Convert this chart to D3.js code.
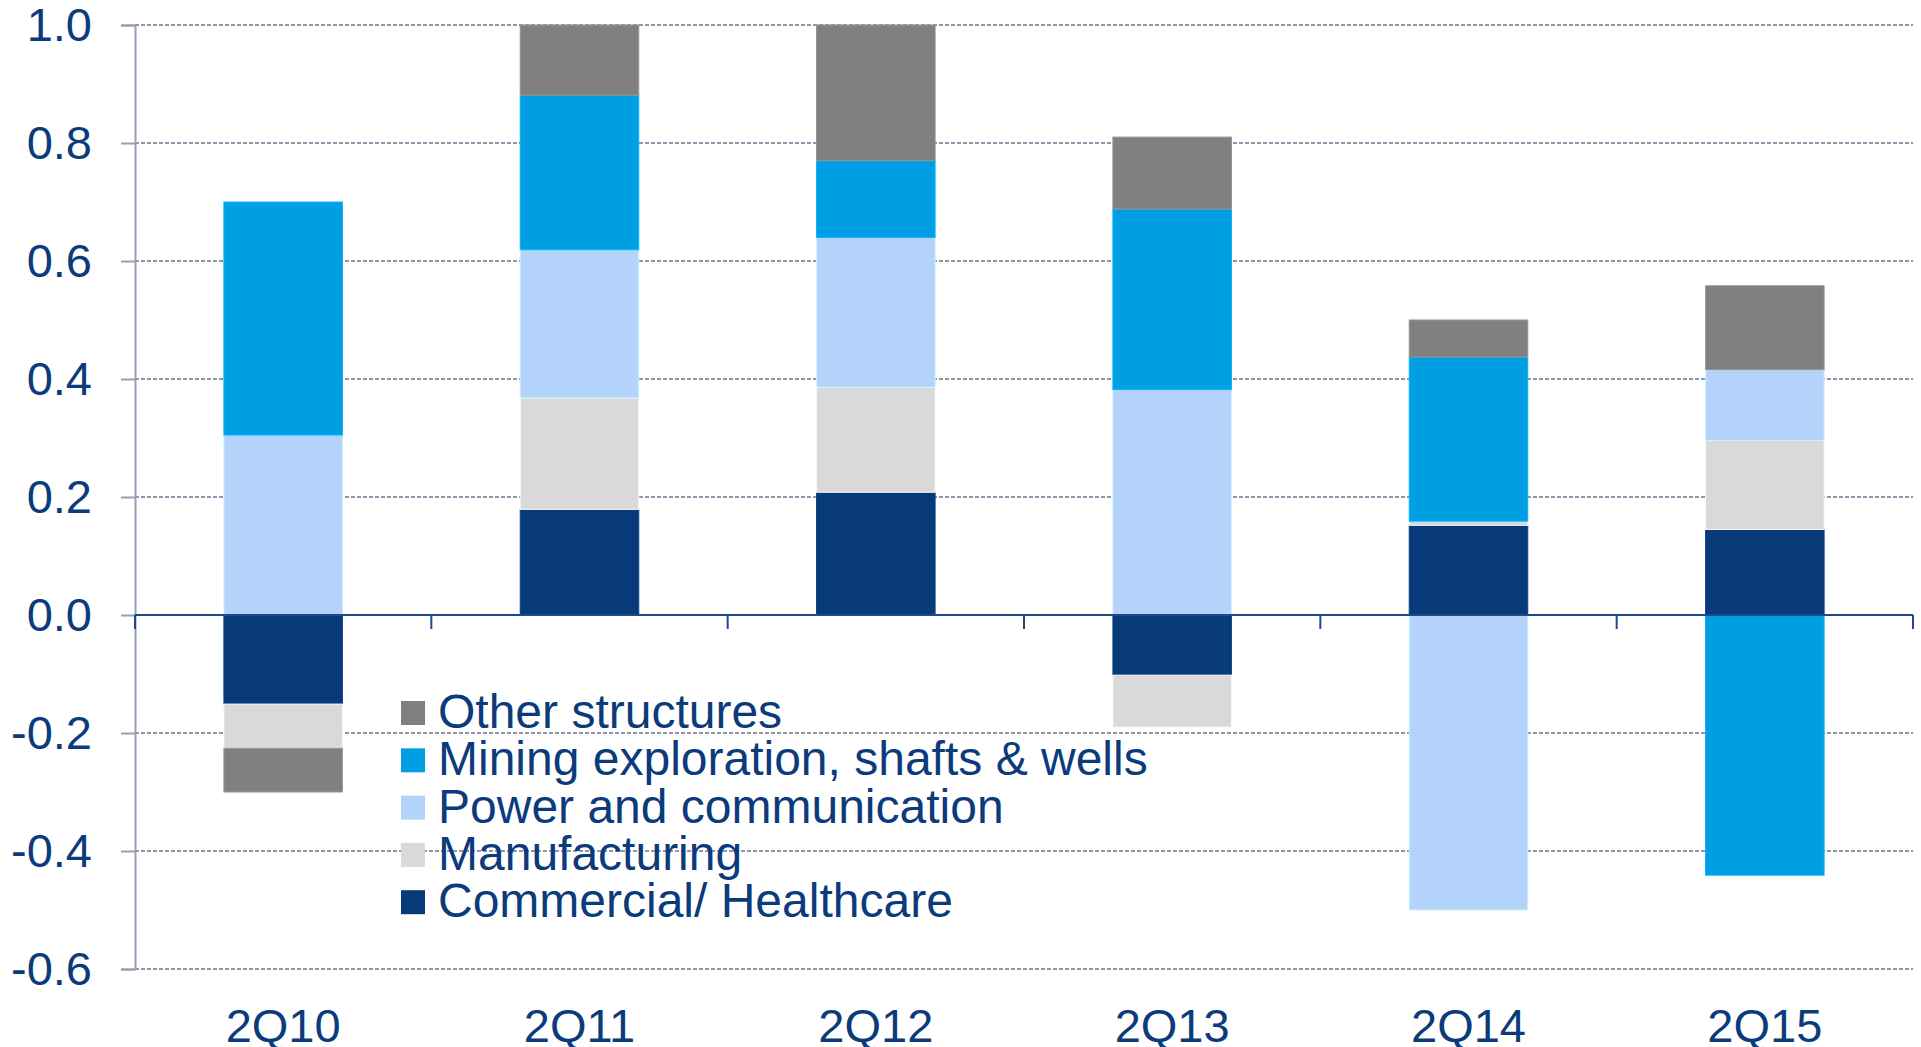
<!DOCTYPE html>
<html>
<head>
<meta charset="utf-8">
<script src="https://cdn.jsdelivr.net/npm/d3@7"></script>
<style>
  body { margin: 0; background: #fff; }
  text { font-family: "Liberation Sans", Arial, sans-serif; fill: #0b3b7b; }
</style>
</head>
<body>
<div id="viz"></div>
<script>

var quarters = ["2Q10", "2Q11", "2Q12", "2Q13", "2Q14", "2Q15"];

// series, bottom to top of the stack
var commercial    = [-0.151, 0.179, 0.208, -0.102, 0.152, 0.145];
var manufacturing = [-0.075, 0.189, 0.178, -0.088, 0.007, 0.151];
var power         = [ 0.305, 0.251, 0.254,  0.382, -0.500, 0.120];
var mining        = [ 0.395, 0.262, 0.130,  0.306, 0.278, -0.441];
var other         = [-0.074, 0.119, 0.230,  0.122, 0.063, 0.142];

var seriesNames = ["Commercial/ Healthcare", "Manufacturing", "Power and communication",
                   "Mining exploration, shafts & wells", "Other structures"];
var seriesValues = [commercial, manufacturing, power, mining, other];

var yTicks = [-0.6, -0.4, -0.2, 0.0, 0.2, 0.4, 0.6, 0.8, 1.0];

var width = 1921,
    height = 1047;

var svg = d3.select("#viz")
    .append("svg")
    .attr("width", width)
    .attr("height", height);

var color = d3.scaleOrdinal()
    .domain(seriesNames)
    .range(["#083a7a", "#d9d9d9", "#b3d3fa", "#009fe3", "#808080"]);

// build rows for d3.stack
var rows = quarters.map(function(q, i) {
  var r = { quarter: q };
  seriesNames.forEach(function(s, j) { r[s] = seriesValues[j][i]; });
  return r;
});

var stacked = d3.stack()
    .keys(seriesNames)
    .offset(d3.stackOffsetDiverging)(rows);

var x = d3.scaleBand()
    .domain(quarters)
    .range([135, 1913])
    .paddingInner(0.6)
    .paddingOuter(0.3);

var y = d3.scaleLinear()
    .domain([-0.6, 1.0])
    .range([969, 25]);

// ****************** Grid + left axis ***************************
svg.append("g")
    .selectAll("line")
    .data(yTicks.filter(function(d) { return d !== 0; }))
    .enter().append("line")
      .attr("x1", 135)
      .attr("x2", 1913)
      .attr("y1", function(d) { return y(d); })
      .attr("y2", function(d) { return y(d); })
      .attr("stroke", "#9295ae")
      .attr("stroke-width", 2)
      .attr("stroke-dasharray", "4,2");

var yAxis = svg.append("g")
    .attr("transform", "translate(135,0)")
    .call(d3.axisLeft(y).tickValues(yTicks).tickSize(14).tickPadding(29).tickFormat(d3.format(".1f")));

yAxis.select(".domain").attr("stroke", "#9a9db4").attr("stroke-width", 2);
yAxis.selectAll(".tick line").attr("stroke", "#9a9db4").attr("stroke-width", 2);
yAxis.selectAll(".tick text")
    .attr("fill", "#0b3b7b")
    .style("font-size", "47px")
    .style("font-family", "'Liberation Sans', Arial, sans-serif")
    .text(function(d) { return d3.format(".1f")(d).replace("\u2212", "-"); });

// ****************** Bars ***************************
svg.append("g")
    .selectAll("g")
    .data(stacked)
    .enter().append("g")
      .attr("fill", function(d) { return color(d.key); })
      .attr("stroke", function(d) { return d3.color(color(d.key)).brighter(0.4); })
      .attr("stroke-width", 1)
    .selectAll("rect")
    .data(function(d) { return d; })
    .enter().append("rect")
      .attr("x", function(d) { return x(d.data.quarter); })
      .attr("width", x.bandwidth())
      .attr("y", function(d) { return y(Math.max(d[0], d[1])); })
      .attr("height", function(d) { return Math.abs(y(d[0]) - y(d[1])); });

// ****************** Zero line + category axis ***************************
var xAxis = svg.append("g")
    .attr("transform", "translate(0," + y(0) + ")");

xAxis.append("line")
    .attr("x1", 135)
    .attr("x2", 1913)
    .attr("stroke", "#1d4a8a")
    .attr("stroke-width", 2);

var step = x.step();
xAxis.selectAll("line.tick")
    .data(d3.range(quarters.length + 1))
    .enter().append("line")
      .attr("class", "tick")
      .attr("x1", function(i) { return 135 + i * step; })
      .attr("x2", function(i) { return 135 + i * step; })
      .attr("y1", 0)
      .attr("y2", 14)
      .attr("stroke", "#1d4a8a")
      .attr("stroke-width", 2);

svg.append("g")
    .selectAll("text")
    .data(quarters)
    .enter().append("text")
      .attr("x", function(d) { return x(d) + x.bandwidth() / 2; })
      .attr("y", 1042)
      .attr("text-anchor", "middle")
      .style("font-size", "47px")
      .text(function(d) { return d; });

// ****************** Legend ***************************
var legendItems = seriesNames.slice().reverse();

var legend = svg.append("g")
    .selectAll("g")
    .data(legendItems)
    .enter().append("g")
      .attr("transform", function(d, i) { return "translate(401," + (728 + i * 47.3) + ")"; });

legend.append("rect")
    .attr("x", 0)
    .attr("y", -27)
    .attr("width", 24)
    .attr("height", 24)
    .attr("fill", function(d) { return color(d); });

legend.append("text")
    .attr("x", 37)
    .attr("y", 0)
    .style("font-size", "48px")
    .text(function(d) { return d; });

</script>
</body>
</html>
